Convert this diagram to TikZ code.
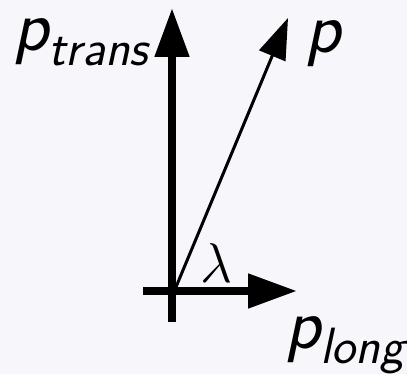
\RequirePackage{fix-cm}
\documentclass[tikz,border=0pt]{standalone}
\usepackage{tikz}
\usetikzlibrary{arrows.meta}

\definecolor{bgpaper}{RGB}{247,247,251}
\newcommand{\subtxt}[1]{\raisebox{-15pt}{\fontsize{51}{53}\selectfont #1}}

\begin{document}
\begin{tikzpicture}[
    x=1pt, y=-1pt,
    axis/.style={-{Triangle[length=49pt, width=33pt]}, line width=8pt},
    vec/.style={-{Triangle[length=41pt, width=28pt]}, line width=3pt},
    lbl/.style={inner sep=0pt, anchor=base west, font=\fontsize{73}{80}\selectfont\sffamily\itshape},
]

\fill[bgpaper] (0,0) rectangle (407,374);
\useasboundingbox (0,0) rectangle (407,374);

% axes
\coordinate (vbot) at (172,322);
\coordinate (vtop) at (172,8);
\coordinate (hleft) at (143,291);
\coordinate (hright) at (297,291);
\coordinate (o) at (176,287);
\coordinate (ptip) at (288,18);

\draw[axis] (vbot) -- (vtop);
\draw[axis] (hleft) -- (hright);
\draw[vec] (o) -- (ptip);

% labels
\node[lbl] (ptrans) at (13,51) {p\subtxt{trans}};
\node[lbl] (p) at (305,53) {p};
\node[lbl] (plong) at (285,348) {p\subtxt{long}};
\node[inner sep=0pt, anchor=base, font=\fontsize{56}{60}\selectfont] (lam) at (216,282) {$\lambda$};

\end{tikzpicture}
\end{document}
